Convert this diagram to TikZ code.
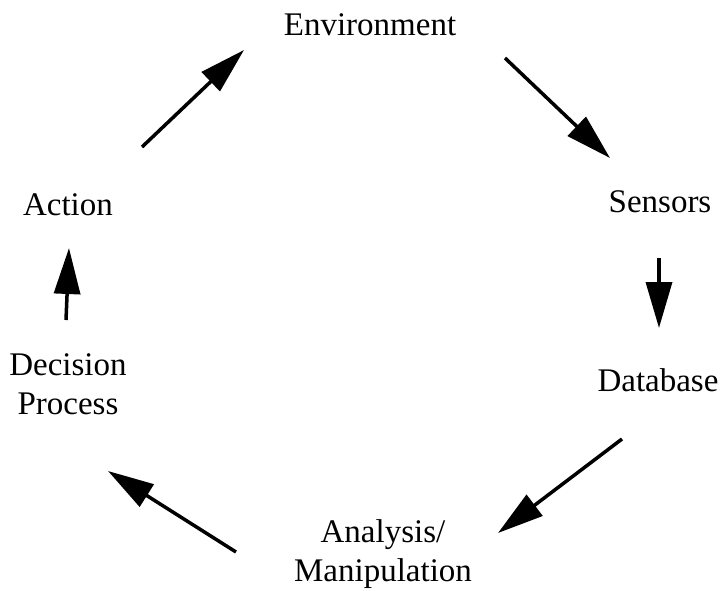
\documentclass[tikz,border=0pt]{standalone}
\usepackage{fontspec}
\setmainfont{Liberation Serif}
\usetikzlibrary{arrows.meta}
\begin{document}
\begin{tikzpicture}[x=1pt,y=-1pt,
  lbl/.style={font=\fontsize{33}{39}\selectfont, align=center, inner sep=0pt},
  flow/.style={line width=3.5pt, -{Triangle[length=46pt,width=26pt]}}]
\useasboundingbox (0,0) rectangle (724,590);
\node[lbl] (env) at (370,25) {Environment};
\node[lbl] (sen) at (660,202) {Sensors};
\node[lbl] (db) at (658,380) {Database};
\node[lbl] (ana) at (383,554) {Analysis/\\Manipulation};
\node[lbl] (dec) at (68,384) {Decision\\Process};
\node[lbl] (act) at (68,205) {Action};
\coordinate (a1) at (142,147); \coordinate (b1) at (244,50);
\coordinate (a2) at (505,58);  \coordinate (b2) at (610,158);
\coordinate (a3) at (659,258); \coordinate (b3) at (659,328);
\coordinate (a4) at (622,439); \coordinate (b4) at (498,533);
\coordinate (a5) at (236,552); \coordinate (b5) at (108,471);
\coordinate (a6) at (66,320);  \coordinate (b6) at (69,248);
\draw[flow] (a1) -- (b1);
\draw[flow] (a2) -- (b2);
\draw[flow] (a3) -- (b3);
\draw[flow] (a4) -- (b4);
\draw[flow] (a5) -- (b5);
\draw[flow] (a6) -- (b6);
\end{tikzpicture}
\end{document}
